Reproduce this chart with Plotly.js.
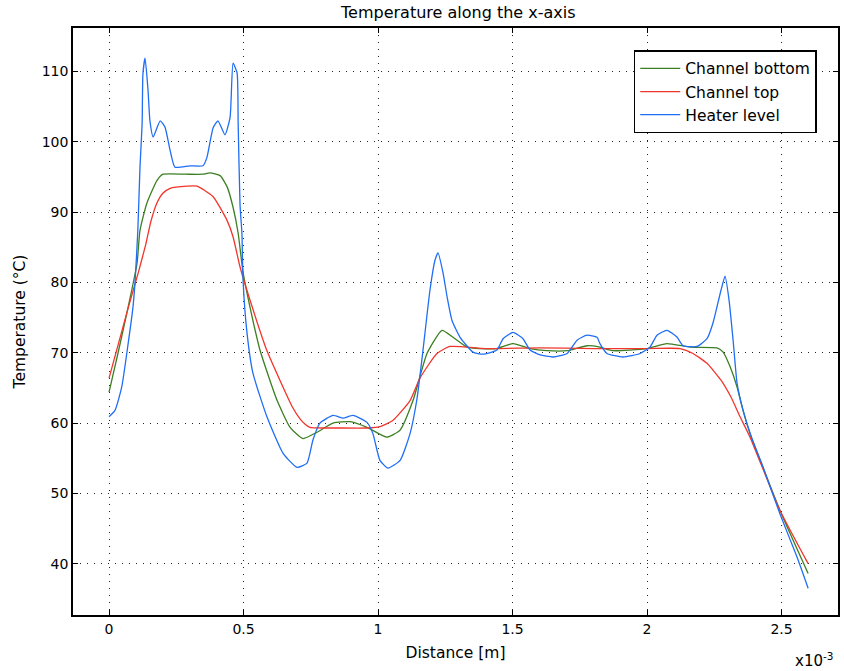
<!DOCTYPE html>
<html>
<head>
<meta charset="utf-8">
<script src="https://cdn.plot.ly/plotly-3.0.1.min.js"></script>
<style>html,body{margin:0;padding:0;background:#fff;}#chart{width:844px;height:671px;}</style>
</head>
<body>
<div id="chart"></div>
<script>
// Distance in units of 1e-3 m
const bottomX = [0,0.033,0.071,0.104,0.115,0.140,0.178,0.201,0.283,0.349,0.375,0.413,0.439,0.461,0.480,0.498,0.524,0.561,0.625,0.673,0.721,0.773,0.833,0.896,0.959,1.033,1.082,1.130,1.182,1.238,1.279,1.331,1.379,1.440,1.502,1.565,1.628,1.703,1.777,1.825,1.874,2.0,2.074,2.160,2.260,2.283,2.309,2.335,2.357,2.383,2.494,2.599];
const bottomT = [64.4,69.9,76.5,82.7,87.4,91.2,94.5,95.4,95.4,95.4,95.6,95.2,93.6,90.7,87.0,81.5,76.5,70.4,63.2,59.4,57.8,58.7,60.0,60.2,59.4,58.0,59.0,63.2,69.9,73.2,72.2,70.8,70.6,70.6,71.3,70.6,70.3,70.3,71.0,70.8,70.3,70.6,71.3,70.8,70.7,70.1,68.0,65.1,61.8,58.5,47.6,38.6];

const topX = [0,0.035,0.072,0.108,0.137,0.155,0.178,0.200,0.227,0.290,0.327,0.387,0.439,0.461,0.487,0.524,0.586,0.647,0.680,0.710,0.730,0.747,0.859,0.959,1.007,1.056,1.119,1.156,1.219,1.268,1.400,1.600,1.800,2.000,2.123,2.171,2.223,2.275,2.312,2.346,2.383,2.494,2.599];
const topT = [66.4,71.3,76.5,81.3,85.5,88.6,91.3,92.7,93.4,93.7,93.7,92.2,88.8,86.5,82.2,77.5,70.4,65.1,62.4,60.6,59.8,59.4,59.3,59.3,59.5,60.4,63.2,66.4,69.9,70.9,70.6,70.7,70.6,70.6,70.6,69.9,68.5,66.1,63.7,60.9,58.0,47.6,40.0];

const heaterX = [0,0.022,0.047,0.071,0.089,0.097,0.107,0.115,0.123,0.126,0.134,0.145,0.152,0.164,0.190,0.208,0.227,0.245,0.301,0.349,0.364,0.387,0.405,0.431,0.450,0.461,0.476,0.480,0.487,0.494,0.498,0.513,0.535,0.587,0.647,0.699,0.736,0.758,0.784,0.833,0.870,0.907,0.959,0.981,1.007,1.037,1.082,1.119,1.145,1.167,1.193,1.212,1.223,1.242,1.257,1.275,1.305,1.353,1.390,1.442,1.465,1.502,1.539,1.565,1.602,1.651,1.703,1.740,1.777,1.814,1.825,1.851,1.911,1.974,2.011,2.037,2.074,2.112,2.134,2.186,2.223,2.245,2.275,2.290,2.305,2.320,2.335,2.357,2.390,2.431,2.494,2.558,2.599];
const heaterT = [60.9,61.8,65.1,71.3,76.5,80.3,87.4,96.4,102.6,109.7,111.9,107.3,103.0,100.7,103.0,102.1,98.8,96.4,96.6,96.6,97.8,102.0,103.0,101.0,103.5,111.2,109.8,102.6,91.0,87.0,80.5,72.8,67.1,60.9,55.7,53.7,54.3,57.6,60.0,61.1,60.7,61.1,60.1,58.5,54.7,53.6,54.7,58.5,63.5,70.3,78.9,83.2,84.2,81.3,77.9,74.6,72.2,70.1,69.8,70.4,72.0,72.9,72.0,70.4,69.7,69.4,69.9,71.8,72.5,72.2,71.3,69.9,69.4,69.9,70.8,72.5,73.2,72.2,71.0,70.9,72.0,74.2,78.9,80.9,77.5,71.8,65.6,61.8,57.8,53.8,47.1,40.9,36.5];

const seriesNames = ['Channel bottom','Channel top','Heater level'];
const xTicks = [0,0.5,1,1.5,2,2.5];
const yTicks = [40,50,60,70,80,90,100,110];

const font = 'DejaVu Sans, Verdana, sans-serif';
const mk = (x,y,name,color)=>({x:x,y:y,name:name,type:'scatter',mode:'lines',
  line:{color:color,width:1.3,shape:'spline',smoothing:0.5}});
const data = [
  mk(bottomX,bottomT,seriesNames[0],'#3c7f22'),
  mk(topX,topT,seriesNames[1],'#f0362c'),
  mk(heaterX,heaterT,seriesNames[2],'#1f6ef5')
];
const axCommon = {showline:true,linecolor:'#000',linewidth:1.5,mirror:'ticks',ticks:'inside',ticklen:5,
  tickcolor:'#000',showgrid:true,gridcolor:'#222',griddash:'1.3px,5.7px',gridwidth:1.3,zeroline:false,
  tickfont:{family:font,size:14,color:'#000'}};
const layout = {
  width:844,height:671,paper_bgcolor:'#fff',plot_bgcolor:'#fff',
  margin:{l:73,r:6,t:28,b:56},
  title:{text:'Temperature along the x-axis',font:{family:font,size:16,color:'#000'},x:0.543,xref:'container',y:0.981,yref:'container',yanchor:'middle'},
  xaxis:Object.assign({},axCommon,{range:[-0.134,2.710],tickvals:xTicks,
    title:{text:'Distance [m]',font:{family:font,size:15.5,color:'#000'},standoff:12}}),
  yaxis:Object.assign({},axCommon,{range:[32.7,116.2],tickvals:yTicks,
    title:{text:'Temperature (°C)',font:{family:font,size:15.5,color:'#000'},standoff:12}}),
  legend:{x:0.733,y:0.962,xanchor:'left',yanchor:'top',bgcolor:'#fff',bordercolor:'#000',borderwidth:1.5,
    font:{family:font,size:15.5,color:'#000'},tracegroupgap:0,itemwidth:40},
  annotations:[{text:'x10<sup>-3</sup>',xref:'paper',yref:'paper',x:0.968,y:-0.076,xanchor:'center',yanchor:'middle',
    showarrow:false,font:{family:font,size:15,color:'#000'}}]
};
Plotly.newPlot('chart',data,layout,{displayModeBar:false});
</script>
</body>
</html>
